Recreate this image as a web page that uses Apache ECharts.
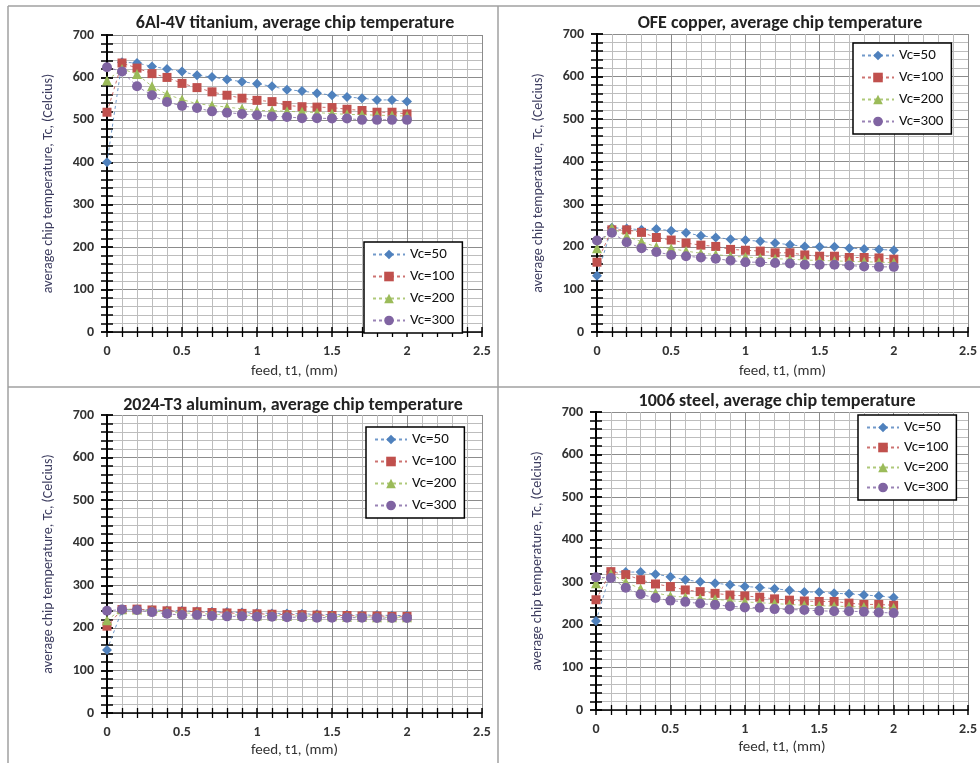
<!DOCTYPE html>
<html>
<head>
<meta charset="utf-8">
<script src="https://cdn.jsdelivr.net/npm/echarts@6/dist/echarts.min.js"></script>
<style>
  html, body { margin: 0; padding: 0; background: #fff; }
  #chart { width: 980px; height: 763px; }
</style>
</head>
<body>
<div id="chart"></div>
<script>
// feed values (mm), shared by every panel
const feed = [0, 0.1, 0.2, 0.3, 0.4, 0.5, 0.6, 0.7, 0.8, 0.9, 1.0, 1.1, 1.2, 1.3, 1.4, 1.5, 1.6, 1.7, 1.8, 1.9, 2.0];
const seriesNames = ['Vc=50', 'Vc=100', 'Vc=200', 'Vc=300'];
const panelTitles = [
  '6Al-4V titanium, average chip temperature',
  'OFE copper, average chip temperature',
  '2024-T3 aluminum, average chip temperature',
  '1006 steel, average chip temperature'
];

// 6Al-4V titanium
const tiVc50  = [400, 636, 634, 626, 620, 614, 605, 601, 595, 590, 585, 579, 571, 568, 563, 558, 554, 551, 547, 547, 543];
const tiVc100 = [518, 634, 622, 609, 600, 586, 576, 566, 558, 551, 546, 543, 534, 531, 530, 529, 525, 522, 518, 518, 514];
const tiVc200 = [593, 620, 608, 579, 560, 548, 538, 534, 530, 526, 522, 522, 520, 519, 517, 515, 513, 512, 511, 510, 509];
const tiVc300 = [624, 614, 579, 558, 542, 533, 528, 520, 517, 514, 511, 508, 507, 504, 504, 503, 503, 500, 500, 500, 500];

// OFE copper
const cuVc50  = [132, 245, 243, 240, 242, 238, 233, 226, 222, 218, 216, 213, 209, 205, 201, 200, 200, 197, 195, 194, 192];
const cuVc100 = [164, 240, 240, 234, 222, 216, 209, 204, 201, 194, 192, 190, 186, 186, 181, 178, 178, 175, 175, 174, 171];
const cuVc200 = [197, 245, 225, 212, 200, 196, 190, 185, 182, 178, 176, 174, 172, 171, 169, 168, 167, 166, 165, 164, 163];
const cuVc300 = [215, 233, 211, 197, 188, 181, 178, 175, 172, 168, 164, 164, 162, 161, 158, 158, 158, 156, 154, 153, 153];

// 2024-T3 aluminum
const alVc50  = [148, 241, 243, 242, 241, 240, 239, 238, 237, 236, 235, 234, 234, 233, 232, 231, 231, 230, 230, 229, 229];
const alVc100 = [204, 243, 244, 242, 240, 239, 238, 236, 235, 234, 233, 232, 231, 231, 230, 229, 229, 228, 228, 227, 227];
const alVc200 = [218, 244, 243, 240, 237, 235, 234, 232, 231, 230, 229, 229, 228, 228, 227, 227, 226, 226, 225, 225, 225];
const alVc300 = [240, 243, 242, 237, 233, 230, 230, 228, 227, 227, 226, 226, 225, 225, 224, 224, 224, 224, 223, 223, 223];

// 1006 steel
const stVc50  = [209, 325, 324, 324, 319, 313, 306, 301, 298, 294, 290, 288, 285, 281, 277, 277, 274, 273, 270, 268, 264];
const stVc100 = [259, 325, 318, 306, 296, 290, 282, 278, 274, 270, 268, 265, 261, 258, 256, 255, 255, 251, 248, 248, 246];
const stVc200 = [298, 320, 300, 285, 275, 268, 265, 262, 260, 257, 254, 252, 250, 248, 246, 245, 244, 243, 242, 241, 240];
const stVc300 = [312, 310, 287, 272, 263, 257, 254, 250, 247, 244, 241, 240, 237, 236, 235, 233, 232, 232, 231, 229, 228];

const panelData = [
  [tiVc50, tiVc100, tiVc200, tiVc300],
  [cuVc50, cuVc100, cuVc200, cuVc300],
  [alVc50, alVc100, alVc200, alVc300],
  [stVc50, stVc100, stVc200, stVc300]
];

const colors = ['#4F81BD', '#C0504D', '#9BBB59', '#8064A2'];
const symbols = ['diamond', 'rect', 'triangle', 'circle'];
const symbolSizes = [10, 9, 10, 10];

const font = 'Carlito, Lato, "Open Sans", sans-serif';

// plot area placement for each panel
const grids = [
  { left: 107, top: 35, width: 375, height: 297 },
  { left: 597, top: 34, width: 373, height: 298 },
  { left: 107, top: 415, width: 375, height: 298 },
  { left: 596, top: 412, width: 374, height: 298 }
];
const titlePos = [
  { left: 290, top: 9 },
  { left: 775, top: 9 },
  { left: 288, top: 391 },
  { left: 772, top: 387 }
];
const legendPos = [
  { left: 364, top: 242 },
  { left: 853, top: 43 },
  { left: 366, top: 427 },
  { left: 858, top: 415 }
];

const chart = echarts.init(document.getElementById('chart'));

const xAxes = [];
const yAxes = [];
const series = [];
const titles = [];
const legends = [];

grids.forEach((g, i) => {
  // main x axis: labels, outward ticks, grid lines
  xAxes.push({
    gridIndex: i, type: 'value', min: 0, max: 2.5, interval: 0.5,
    name: 'feed, t1, (mm)', nameLocation: 'middle', nameGap: i < 2 ? 32 : 30,
    nameTextStyle: { fontFamily: font, fontSize: 15, color: '#333' },
    axisLine: { onZero: false, lineStyle: { color: '#000', width: 1.5 } },
    axisTick: { show: true, length: 5, lineStyle: { color: '#000', width: 1.5 } },
    minorTick: { show: true, splitNumber: 5, length: 5, lineStyle: { color: '#000', width: 1.3 } },
    axisLabel: { fontFamily: font, fontSize: 14, fontWeight: 'bold', color: '#333', margin: 12 },
    splitLine: { show: true, lineStyle: { color: '#8c8c8c', width: 1 } },
    minorSplitLine: { show: true, lineStyle: { color: '#bdbdbd', width: 1 } }
  });
  // twin x axis only for inward ticks
  xAxes.push({
    gridIndex: i, type: 'value', min: 0, max: 2.5, interval: 0.5, position: 'bottom',
    axisLine: { show: false, onZero: false },
    axisTick: { show: true, inside: true, length: 5, lineStyle: { color: '#000', width: 1.5 } },
    minorTick: { show: true, splitNumber: 5, length: 5, lineStyle: { color: '#000', width: 1.3 } },
    axisLabel: { show: false }, splitLine: { show: false }
  });
  yAxes.push({
    gridIndex: i, type: 'value', min: 0, max: 700, interval: 100, position: 'left',
    name: 'average chip temperature, Tc, (Celcius)', nameLocation: 'middle', nameGap: 52,
    nameTextStyle: { fontFamily: font, fontSize: 14, color: '#3b3b5e' },
    axisLine: { show: true, lineStyle: { color: '#000', width: 2 } },
    axisTick: { show: true, length: 6, lineStyle: { color: '#000', width: 1.8 } },
    minorTick: { show: true, splitNumber: 5, length: 6, lineStyle: { color: '#000', width: 1.5 } },
    axisLabel: { fontFamily: font, fontSize: 14, fontWeight: 'bold', color: '#333', margin: 13 },
    splitLine: { show: true, lineStyle: { color: '#8c8c8c', width: 1 } },
    minorSplitLine: { show: true, lineStyle: { color: '#bdbdbd', width: 1 } }
  });
  yAxes.push({
    gridIndex: i, type: 'value', min: 0, max: 700, interval: 100, position: 'left', offset: 0,
    axisLine: { show: false },
    axisTick: { show: true, inside: true, length: 6, lineStyle: { color: '#000', width: 1.8 } },
    minorTick: { show: true, splitNumber: 5, length: 6, lineStyle: { color: '#000', width: 1.5 } },
    axisLabel: { show: false }, splitLine: { show: false }
  });

  titles.push({
    text: panelTitles[i], left: titlePos[i].left, top: titlePos[i].top, textAlign: 'center',
    textStyle: { fontFamily: font, fontSize: 18, fontWeight: 'bold', color: '#222' }
  });

  legends.push({
    orient: 'vertical', left: legendPos[i].left, top: legendPos[i].top,
    data: seriesNames,
    backgroundColor: '#fff', borderColor: '#000', borderWidth: 1.5,
    padding: [5, 8, 5, 8], itemGap: i === 3 ? 5 : 7, itemWidth: 32, itemHeight: 12,
    textStyle: { fontFamily: font, fontSize: 15, color: '#111' },
    selectedMode: false
  });

  panelData[i].forEach((vals, k) => {
    series.push({
      name: seriesNames[k], type: 'line',
      xAxisIndex: i * 2, yAxisIndex: i * 2,
      data: feed.map((f, j) => [f, vals[j]]),
      symbol: symbols[k], symbolSize: symbolSizes[k],
      showSymbol: true,
      itemStyle: { color: colors[k] },
      lineStyle: { color: colors[k], width: 1, type: [3, 3], opacity: 0.8 },
      z: 3 + k,
      animation: false
    });
  });
});

chart.setOption({
  backgroundColor: '#fff',
  animation: false,
  title: titles,
  legend: legends,
  grid: grids,
  xAxis: xAxes,
  yAxis: yAxes,
  series: series,
  graphic: [
    { type: 'line', shape: { x1: 8, y1: 6, x2: 980, y2: 6 }, style: { stroke: '#a0a0a0', lineWidth: 1.5 } },
    { type: 'line', shape: { x1: 8, y1: 387, x2: 980, y2: 387 }, style: { stroke: '#a0a0a0', lineWidth: 1.5 } },
    { type: 'line', shape: { x1: 8, y1: 6, x2: 8, y2: 763 }, style: { stroke: '#a0a0a0', lineWidth: 1.5 } },
    { type: 'line', shape: { x1: 498, y1: 6, x2: 498, y2: 763 }, style: { stroke: '#a0a0a0', lineWidth: 1.5 } }
  ]
});
</script>
</body>
</html>
